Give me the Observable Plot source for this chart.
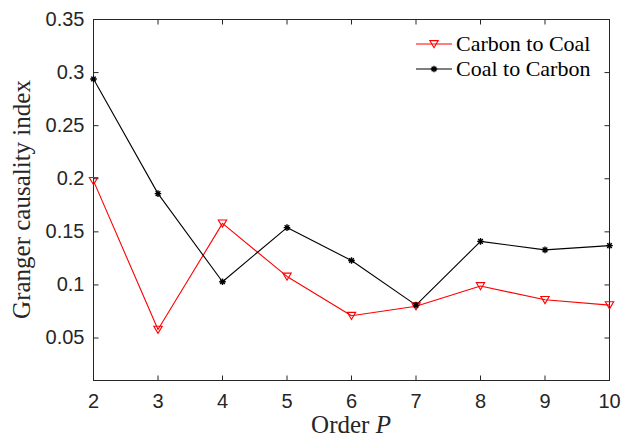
<!DOCTYPE html>
<html>
<head>
<meta charset="utf-8">
<script src="https://cdn.jsdelivr.net/npm/d3@7"></script>
<script src="https://cdn.jsdelivr.net/npm/@observablehq/plot@0.6"></script>
<style>
  html, body { margin: 0; padding: 0; background: #fff; }
  #wrap { position: relative; width: 621px; height: 439px; }
  #legend { position: absolute; left: 416px; top: 31px; font-family: "Liberation Serif", serif; font-size: 22px; color: #000; line-height: 25px; }
  #legend .row { display: flex; align-items: center; white-space: nowrap; }
  #legend svg { margin-right: 3px; }
</style>
</head>
<body>
<div id="wrap"><div id="legend"></div></div>
<script>
const orders = [2, 3, 4, 5, 6, 7, 8, 9, 10];
const carbonToCoal = [0.198, 0.058, 0.158, 0.108, 0.071, 0.080, 0.099, 0.086, 0.081];
const coalToCarbon = [0.294, 0.186, 0.103, 0.154, 0.123, 0.081, 0.141, 0.133, 0.137];
const seriesNames = ["Carbon to Coal", "Coal to Carbon"];
const seriesColors = ["#ff0000", "#000000"];
const xTicks = [2, 3, 4, 5, 6, 7, 8, 9, 10];
const yTicks = [0.05, 0.1, 0.15, 0.2, 0.25, 0.3, 0.35];
const xDomain = [2, 10];
const yDomain = [0.01, 0.35];
const xLabel = "Order ";
const xLabelMath = "P";
const yLabel = "Granger causality index";

const red = orders.map((o, i) => ({order: o, value: carbonToCoal[i]}));
const blk = orders.map((o, i) => ({order: o, value: coalToCarbon[i]}));

const axisColor = "#262626";
const TL = 5;
const tickRight = {draw(c) { c.moveTo(0, 0); c.lineTo(TL, 0); }};
const tickLeft = {draw(c) { c.moveTo(0, 0); c.lineTo(-TL, 0); }};
const tickUp = {draw(c) { c.moveTo(0, 0); c.lineTo(0, -TL); }};
const tickDown = {draw(c) { c.moveTo(0, 0); c.lineTo(0, TL); }};
const triDown = {draw(c) { const h = 4.2; c.moveTo(-h, -h * 0.8); c.lineTo(h, -h * 0.8); c.lineTo(0, h * 0.9); c.closePath(); }};
const asterisk = {draw(c) {
  const r = 3.3, d = r * Math.SQRT1_2;
  c.moveTo(-r, 0); c.lineTo(r, 0);
  c.moveTo(0, -r); c.lineTo(0, r);
  c.moveTo(-d, -d); c.lineTo(d, d);
  c.moveTo(-d, d); c.lineTo(d, -d);
}};

const chart = Plot.plot({
  width: 621, height: 439,
  marginLeft: 93, marginRight: 12, marginTop: 19, marginBottom: 59,
  x: {domain: xDomain, label: null},
  y: {domain: yDomain, label: null},
  style: {fontFamily: "'Liberation Sans', Arial, sans-serif", fontSize: "20px", color: axisColor, background: "#fff"},
  marks: [
    Plot.axisX({ticks: xTicks, tickSize: 0, tickPadding: 13, label: null, tickFormat: d => String(d), fill: axisColor}),
    Plot.axisY({ticks: yTicks, tickSize: 0, tickPadding: 9, label: null, tickFormat: d => String(d), fill: axisColor}),
    Plot.dot(yTicks, {x: () => xDomain[0], y: d => d, symbol: tickRight, stroke: axisColor, strokeWidth: 1, r: 1}),
    Plot.dot(yTicks, {x: () => xDomain[1], y: d => d, symbol: tickLeft, stroke: axisColor, strokeWidth: 1, r: 1}),
    Plot.dot(xTicks, {x: d => d, y: () => yDomain[0], symbol: tickUp, stroke: axisColor, strokeWidth: 1, r: 1}),
    Plot.dot(xTicks, {x: d => d, y: () => yDomain[1], symbol: tickDown, stroke: axisColor, strokeWidth: 1, r: 1}),
    Plot.frame({stroke: axisColor, strokeWidth: 1}),
    Plot.line(red, {x: "order", y: "value", stroke: seriesColors[0], strokeWidth: 1.1}),
    Plot.line(blk, {x: "order", y: "value", stroke: seriesColors[1], strokeWidth: 1.1}),
    Plot.dot(red, {x: "order", y: "value", symbol: triDown, stroke: seriesColors[0], fill: "none", strokeWidth: 1.1, r: 4}),
    Plot.dot(blk, {x: "order", y: "value", symbol: asterisk, stroke: seriesColors[1], fill: "none", strokeWidth: 1.4, r: 4})
  ]
});

const svg = d3.select(chart);
// y label
svg.append("text")
  .attr("transform", "translate(30,199.5) rotate(-90)")
  .attr("text-anchor", "middle")
  .attr("font-family", "'Liberation Serif', serif")
  .attr("font-size", 25)
  .attr("fill", axisColor)
  .text(yLabel);
// x label
const xt = svg.append("text")
  .attr("x", 351).attr("y", 433)
  .attr("text-anchor", "middle")
  .attr("font-family", "'Liberation Serif', serif")
  .attr("font-size", 25)
  .attr("fill", axisColor);
xt.append("tspan").text(xLabel);
xt.append("tspan").attr("font-style", "italic").text(xLabelMath);

document.getElementById("wrap").prepend(chart);

// legend
const leg = d3.select("#legend");
const symbols = [triDown, asterisk];
seriesNames.forEach((name, i) => {
  const row = leg.append("div").attr("class", "row");
  const s = row.append("svg").attr("width", 37).attr("height", 20);
  s.append("line").attr("x1", 0).attr("x2", 36).attr("y1", 10).attr("y2", 10).attr("stroke", seriesColors[i]).attr("stroke-width", 1.1);
  const p = d3.path();
  symbols[i].draw(p);
  s.append("path").attr("d", p.toString()).attr("transform", "translate(18,10)")
    .attr("fill", "none").attr("stroke", seriesColors[i]).attr("stroke-width", i ? 1.4 : 1.1);
  row.append("span").text(name);
});
</script>
</body>
</html>
